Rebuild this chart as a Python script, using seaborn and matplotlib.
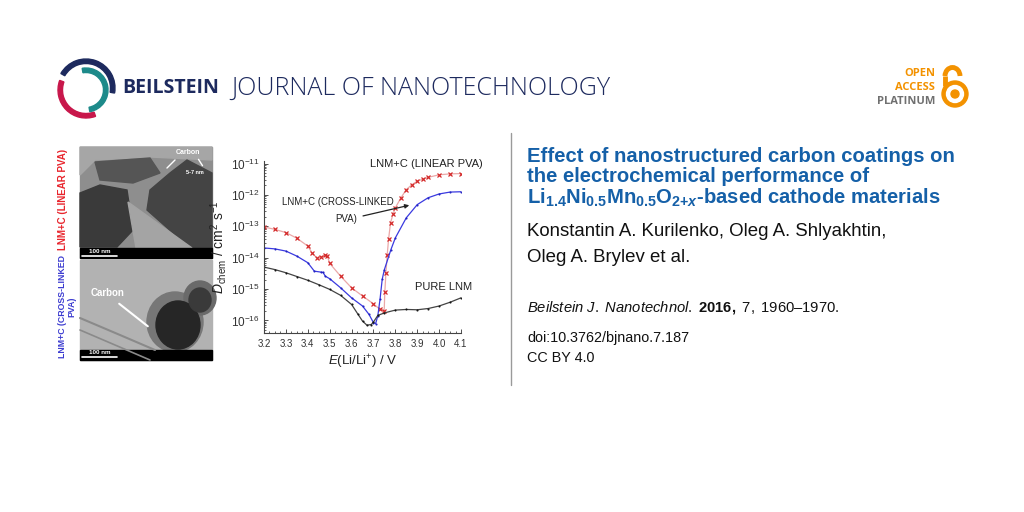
import matplotlib
matplotlib.use("Agg")
import matplotlib.pyplot as plt
import numpy as np
import pandas as pd
import seaborn as sns
from matplotlib.patches import Rectangle, Polygon, Wedge, Circle, Arc, Ellipse
from matplotlib.ticker import LogLocator, MultipleLocator, NullFormatter

# Data: potential E (V) and log10 of D_chem (cm2 s-1)
linear_e = [3.20, 3.25, 3.30, 3.35, 3.40, 3.42, 3.44, 3.46, 3.48, 3.49, 3.50,
            3.55, 3.60, 3.65, 3.70, 3.73, 3.749, 3.752, 3.757, 3.763, 3.769,
            3.778, 3.79, 3.80, 3.825, 3.85, 3.875, 3.90, 3.925, 3.95, 4.00,
            4.05, 4.10]
linear_log_d = [-13.02, -13.10, -13.20, -13.38, -13.63, -13.85, -14.00, -13.97,
                -13.93, -13.96, -14.18, -14.59, -14.96, -15.22, -15.47, -15.65,
                -15.70, -15.10, -14.48, -13.90, -13.42, -12.89, -12.60, -12.41,
                -12.10, -11.83, -11.68, -11.56, -11.50, -11.44, -11.36, -11.33,
                -11.32]

cross_e = [3.20, 3.25, 3.30, 3.35, 3.40, 3.43, 3.46, 3.47, 3.48, 3.50, 3.55,
           3.60, 3.65, 3.68, 3.70, 3.71, 3.72, 3.73, 3.74, 3.75, 3.78, 3.80,
           3.85, 3.90, 3.95, 4.00, 4.05, 4.10]
cross_log_d = [-13.69, -13.72, -13.79, -13.95, -14.16, -14.43, -14.46, -14.47,
               -14.59, -14.67, -14.96, -15.28, -15.54, -15.81, -16.07, -16.10,
               -15.85, -15.33, -14.69, -14.38, -13.74, -13.37, -12.73, -12.31,
               -12.09, -11.97, -11.91, -11.90]

pure_e = [3.20, 3.25, 3.30, 3.35, 3.40, 3.45, 3.50, 3.55, 3.60, 3.63, 3.65,
          3.67, 3.69, 3.70, 3.72, 3.75, 3.80, 3.85, 3.90, 3.95, 4.00, 4.05, 4.10]
pure_log_d = [-14.30, -14.38, -14.48, -14.60, -14.72, -14.86, -15.01, -15.20,
              -15.49, -15.81, -16.02, -16.15, -16.13, -16.05, -15.84, -15.76,
              -15.67, -15.65, -15.66, -15.62, -15.54, -15.42, -15.28]

x_ticks = [3.2, 3.3, 3.4, 3.5, 3.6, 3.7, 3.8, 3.9, 4.0, 4.1]
x_ticklabels = ["3.2", "3.3", "3.4", "3.5", "3.6", "3.7", "3.8", "3.9", "4.0", "4.1"]

title_lines = [
    "Effect of nanostructured carbon coatings on",
    "the electrochemical performance of",
    r"Li$_\mathbf{1.4}$Ni$_\mathbf{0.5}$Mn$_\mathbf{0.5}$O$_{\mathbf{2{+}}\mathsf{x}}$-based cathode materials",
]
author_lines = ["Konstantin A. Kurilenko, Oleg A. Shlyakhtin,", "Oleg A. Brylev et al."]

sns.set_theme(style="ticks")
plt.rcParams["font.family"] = ["Liberation Sans", "DejaVu Sans"]
plt.rcParams["mathtext.fontset"] = "custom"
plt.rcParams["mathtext.rm"] = "Liberation Sans"
plt.rcParams["mathtext.it"] = "Liberation Sans:italic"
plt.rcParams["mathtext.bf"] = "Liberation Sans:bold"
plt.rcParams["mathtext.sf"] = "Liberation Sans:bold:italic"

fig = plt.figure(figsize=(10.24, 5.12), dpi=100)

# ---- decoration layer in pixel coordinates ----
deco = fig.add_axes([0, 0, 1, 1])
deco.set_xlim(0, 1024)
deco.set_ylim(512, 0)
deco.axis("off")

navy = "#1d2a5e"
# swirl logo (y axis is inverted, so visual angles are negated)
deco.add_patch(Wedge((86, 90), 28, 70, 200, width=4.5, color="#c8174b"))
deco.add_patch(Wedge((86, 90), 22, -100, 80, width=4.5, color="#1d8a8a"))
deco.add_patch(Wedge((86, 88), 29, -150, 10, width=4.5, color=navy))

deco.text(122, 88, "BEILSTEIN", fontsize=14, fontweight="bold", color=navy,
          family=["Open Sans", "DejaVu Sans"], va="center")
deco.text(231, 88, "JOURNAL OF NANOTECHNOLOGY", fontsize=18, fontweight="light",
          color=navy, family=["Open Sans", "DejaVu Sans"], va="center")

# open access badge
orange = "#f39200"
for y, s, c in [(73, "OPEN", orange), (87, "ACCESS", orange), (101, "PLATINUM", "#707070")]:
    deco.text(935, y, s, fontsize=8, fontweight="bold", color=c, ha="right",
              va="center", family=["Open Sans", "DejaVu Sans"])
deco.add_patch(Circle((955, 94), 13, color=orange))
deco.add_patch(Circle((955, 94), 8.5, color="white"))
deco.add_patch(Circle((955, 94), 4, color=orange))
deco.add_patch(Arc((952.5, 76), 15, 17, theta1=180, theta2=360, color=orange, lw=3.5))
deco.plot([945, 945], [76, 86], color=orange, lw=3.5, solid_capstyle="butt")

# divider
deco.plot([511, 511], [133, 385], color="#9a9a9a", lw=1)

# title and article info
for y, s in zip([157, 177, 198], title_lines):
    deco.text(527, y, s, fontsize=14.6, fontweight="bold", color="#1560a8", va="center")
for y, s in zip([232, 258], author_lines):
    deco.text(527, y, s, fontsize=13.4, color="#111111", va="center")
deco.text(527, 308, r"$\it{Beilstein\ J.\ Nanotechnol.}$ $\bf{2016,}$ $\it{7,}$ 1960–1970.",
          fontsize=10.6, color="#111111", va="center")
deco.text(527, 338, "doi:10.3762/bjnano.7.187", fontsize=10.4, color="#111111", va="center")
deco.text(527, 358, "CC BY 4.0", fontsize=10.4, color="#111111", va="center")

# side labels
deco.text(63, 199, "LNM+C (LINEAR PVA)", rotation=90, fontsize=7, fontweight="bold",
          color="#e8242c", ha="center", va="center")
deco.text(67, 307, "LNM+C (CROSS-LINKED\nPVA)", rotation=90, fontsize=6.3, fontweight="bold",
          color="#3b3bd0", ha="center", va="center", multialignment="center",
          linespacing=1.1)

# TEM micrograph sketches
deco.add_patch(Rectangle((80, 147), 132, 111, color="#8e8e8e"))
deco.add_patch(Polygon([(80, 147), (212, 147), (212, 160), (150, 157), (95, 160), (80, 175)],
                       color="#a6a6a6"))
deco.add_patch(Polygon([(95, 162), (150, 158), (160, 173), (133, 183), (100, 180)], color="#555555"))
deco.add_patch(Polygon([(80, 193), (100, 185), (127, 190), (133, 230), (117, 247), (80, 247)],
                       color="#3a3a3a"))
deco.add_patch(Polygon([(187, 160), (212, 173), (212, 248), (190, 248), (147, 210), (150, 190),
                        (170, 173)], color="#444444"))
deco.add_patch(Polygon([(128, 202), (192, 248), (136, 248)], color="#a4a4a4"))
deco.add_patch(Rectangle((80, 248), 132, 10, color="black"))
deco.plot([82, 117], [256, 256], color="white", lw=1.2)
deco.text(100, 251.5, "100 nm", fontsize=4.5, color="white", ha="center", va="center",
          fontweight="bold")
deco.text(188, 153, "Carbon", fontsize=5, color="white", ha="center", va="center",
          fontweight="bold")
deco.annotate("", xy=(165, 170), xytext=(177, 158),
              arrowprops=dict(arrowstyle="-", color="white", lw=1))
deco.annotate("", xy=(204, 168), xytext=(197, 157),
              arrowprops=dict(arrowstyle="-", color="white", lw=1))
deco.text(195, 173, "5-7 nm", fontsize=4, color="white", ha="center", va="center",
          fontweight="bold")

deco.add_patch(Rectangle((80, 260), 132, 100, color="#b2b2b2"))
deco.plot([80, 120, 155], [318, 335, 350], color="#8a8a8a", lw=1.5)
deco.plot([80, 115, 150], [330, 345, 360], color="#8a8a8a", lw=1.2)
deco.add_patch(Ellipse((175, 322), 56, 60, color="#777777"))
deco.add_patch(Ellipse((200, 298), 32, 34, color="#6a6a6a"))
deco.add_patch(Ellipse((178, 325), 44, 48, color="#262626"))
deco.add_patch(Ellipse((200, 300), 22, 24, color="#3a3a3a"))
deco.add_patch(Rectangle((80, 350), 132, 10, color="black"))
deco.plot([82, 117], [357, 357], color="white", lw=1.2)
deco.text(100, 353, "100 nm", fontsize=4.5, color="white", ha="center", va="center",
          fontweight="bold")
deco.text(108, 293, "Carbon", fontsize=7, color="white", ha="center", va="center",
          fontweight="bold")
deco.annotate("", xy=(150, 328), xytext=(117, 302),
              arrowprops=dict(arrowstyle="-", color="white", lw=1.5))

# ---- the chart ----
ax = fig.add_axes([264 / 1024, 179 / 512, 197 / 1024, 172 / 512])
ax.set_facecolor("none")

series = [
    (linear_e, linear_log_d, "#eba8a8", "x", "#d42a2a", 2.6),
    (cross_e, cross_log_d, "#3a3ae0", ".", "#2020c0", 1.2),
    (pure_e, pure_log_d, "#444444", ".", "#111111", 1.2),
]
for e, logd, lc, mk, mc, ms in series:
    df = pd.DataFrame({"E": e, "D": 10.0 ** np.array(logd)})
    sns.lineplot(data=df, x="E", y="D", ax=ax, color=lc, lw=0.9, marker=mk,
                 markersize=ms, markerfacecolor=mc, markeredgecolor=mc,
                 markeredgewidth=0.9, sort=False)

ax.set_yscale("log")
ax.set_xlim(3.2, 4.1)
ax.set_ylim(10 ** -16.4, 10 ** -10.92)
ax.set_xticks(x_ticks)
ax.set_xticklabels(x_ticklabels)
ax.xaxis.set_minor_locator(MultipleLocator(0.025))
ax.yaxis.set_major_locator(LogLocator(base=10, numticks=10))
ax.yaxis.set_minor_locator(LogLocator(base=10, subs=np.arange(2, 10), numticks=10))
ax.yaxis.set_minor_formatter(NullFormatter())
ax.tick_params(axis="x", labelsize=7, direction="in", length=3, width=0.6, pad=4,
               colors="#333333")
ax.tick_params(axis="y", labelsize=8.5, direction="in", length=3, width=0.6, pad=3,
               colors="#333333")
ax.tick_params(which="minor", direction="in", length=1.5, width=0.5)
for s in ["top", "right"]:
    ax.spines[s].set_visible(False)
for s in ["left", "bottom"]:
    ax.spines[s].set_linewidth(0.8)
    ax.spines[s].set_color("#444444")

ax.set_xlabel(r"$E$(Li/Li$^{+}$) / V", fontsize=9.5, color="#222222", labelpad=3)
ax.set_ylabel(r"$D_{\mathrm{chem}}$ / cm$^{2}$ s$^{-1}$", fontsize=10, color="#222222",
              labelpad=1)

ax.text(3.684, 10 ** -11.03, "LNM+C (LINEAR PVA)", fontsize=8, color="#222222",
        va="center", clip_on=False)
ax.text(3.282, 10 ** -12.24, "LNM+C (CROSS-LINKED", fontsize=7, color="#222222",
        va="center")
ax.text(3.524, 10 ** -12.78, "PVA)", fontsize=7, color="#222222", va="center")
ax.annotate("", xy=(3.876, 10 ** -12.31), xytext=(3.64, 10 ** -12.69),
            arrowprops=dict(arrowstyle="-|>", color="#222222", lw=0.9, mutation_scale=6))
ax.text(3.89, 10 ** -14.92, "PURE LNM", fontsize=8, color="#222222", va="center")

fig.savefig("out.png", dpi=100)
